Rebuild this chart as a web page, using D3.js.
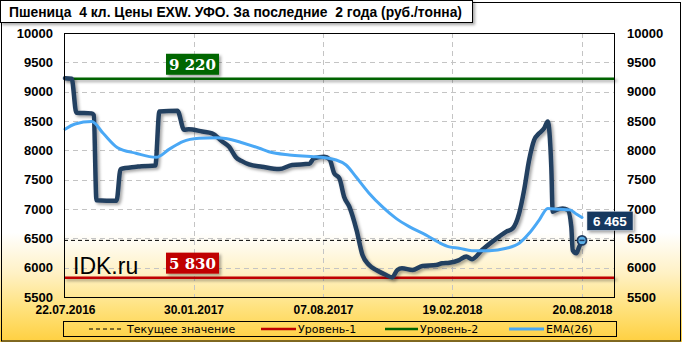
<!DOCTYPE html>
<html><head><meta charset="utf-8">
<script src="https://cdn.jsdelivr.net/npm/d3@7"></script>
<style>html,body{margin:0;padding:0;background:#fff;}svg{display:block;}</style>
</head><body>
<script>
// ---- data ----
const titleText = "Пшеница  4 кл. Цены EXW. УФО. За последние  2 года (руб./тонна)";
const priceDates = ["2016-07-22","2016-08-01","2016-08-08","2016-08-31","2016-09-03","2016-09-07","2016-10-07","2016-10-13","2016-11-06","2016-11-13","2016-12-04","2016-12-10","2017-01-06","2017-01-16","2017-01-23","2017-02-12","2017-02-26","2017-03-13","2017-03-23","2017-04-02","2017-04-10","2017-04-21","2017-05-10","2017-06-04","2017-06-23","2017-07-18","2017-07-25","2017-08-09","2017-08-17","2017-08-24","2017-09-01","2017-09-08","2017-09-16","2017-09-27","2017-10-06","2017-10-16","2017-10-27","2017-11-11","2017-11-20","2017-11-28","2017-12-05","2017-12-21","2018-01-05","2018-01-26","2018-02-04","2018-02-15","2018-03-01","2018-03-11","2018-03-19","2018-04-02","2018-04-16","2018-04-26","2018-05-06","2018-05-15","2018-05-24","2018-05-31","2018-06-07","2018-06-14","2018-06-21","2018-06-28","2018-07-03","2018-07-08","2018-07-10","2018-07-15","2018-07-24","2018-07-31","2018-08-05","2018-08-07","2018-08-12","2018-08-16","2018-08-20"];
const priceValues = [9230,9220,8640,8630,8600,7150,7140,7680,7720,7730,7740,8660,8675,8350,8360,8320,8290,8150,8060,7880,7820,7760,7720,7680,7750,7770,7865,7890,7845,7610,7520,7210,7040,6640,6215,6045,5960,5875,5835,5960,5990,5960,6030,6045,6075,6085,6130,6190,6145,6300,6440,6530,6615,6670,6925,7325,7835,8175,8290,8375,8490,7720,6955,6985,7010,6985,6700,6300,6245,6355,6465];
const emaDates = ["2016-07-22","2016-08-06","2016-08-31","2016-09-17","2016-10-08","2016-11-05","2016-12-05","2016-12-25","2017-01-14","2017-02-07","2017-03-04","2017-03-18","2017-04-11","2017-05-06","2017-05-20","2017-06-19","2017-07-28","2017-08-27","2017-09-11","2017-09-26","2017-10-16","2017-11-05","2017-11-26","2017-12-16","2018-01-10","2018-01-31","2018-02-15","2018-03-01","2018-03-19","2018-04-12","2018-05-06","2018-05-24","2018-06-07","2018-06-21","2018-07-03","2018-07-19","2018-08-03","2018-08-12","2018-08-20"];
const emaValues = [8360,8450,8490,8290,8050,7950,7880,8020,8150,8205,8215,8200,8130,8035,7975,7920,7890,7835,7750,7550,7270,7040,6840,6700,6560,6425,6355,6330,6290,6290,6330,6415,6585,6810,7010,6995,6985,6915,6855];
const xTickDates = ["2016-07-22","2017-01-30","2017-08-07","2018-02-19","2018-08-20"];
const xTickLabels = ["22.07.2016","30.01.2017","07.08.2017","19.02.2018","20.08.2018"];
const yTicks = [5500,6000,6500,7000,7500,8000,8500,9000,9500,10000];
const level1 = 5830, level2 = 9220, currentValue = 6465;
const level1Label = "5 830", level2Label = "9 220", currentLabel = "6 465";
const legendLabels = ["Текущее значение","Уровень-1","Уровень-2","EMA(26)"];
const watermark = "IDK.ru";

// ---- layout ----
const W = 682, H = 342;
const L = 64, R = 615, T = 33, B = 297;
const parse = d3.timeParse("%Y-%m-%d");
const svg = d3.select("body").append("svg").attr("width", W).attr("height", H);
const defs = svg.append("defs");
const grad = defs.append("linearGradient").attr("id","bg").attr("x1",0).attr("y1",0).attr("x2",0).attr("y2",1);
[[0,"#ffffff"],[0.68,"#ffffff"],[0.8,"#fff1c4"],[0.9,"#ffe27e"],[1,"#ffd040"]].forEach(s=>grad.append("stop").attr("offset",s[0]).attr("stop-color",s[1]));
const sh = defs.append("filter").attr("id","shadow").attr("filterUnits","userSpaceOnUse")
  .attr("x",0).attr("y",0).attr("width",W).attr("height",H);
sh.append("feDropShadow").attr("dx",2).attr("dy",2).attr("stdDeviation",1.5).attr("flood-color","#000").attr("flood-opacity",0.35);

svg.append("rect").attr("x",0).attr("y",0).attr("width",W).attr("height",H).attr("fill","url(#bg)");
svg.append("rect").attr("x",1.5).attr("y",2.5).attr("width",679).attr("height",338.5).attr("fill","none").attr("stroke","#000").attr("stroke-width",1);

const x = d3.scaleTime().domain(xTickDates.map(parse)).range([65,193.5,323,452,582]);
const y = d3.scaleLinear().domain([5500,10000]).range([B,T]);

// grid
const g = svg.append("g");
g.selectAll("line.hg").data(yTicks.filter(v=>v>5500&&v<10000)).join("line")
  .attr("x1",L).attr("x2",R).attr("y1",d=>Math.round(y(d))+0.5).attr("y2",d=>Math.round(y(d))+0.5)
  .attr("stroke","#c4c4c4").attr("stroke-dasharray","5,4");
g.selectAll("line.vg").data(xTickDates.slice(1)).join("line")
  .attr("x1",d=>Math.round(x(parse(d)))+0.5).attr("x2",d=>Math.round(x(parse(d)))+0.5).attr("y1",T).attr("y2",B)
  .attr("stroke","#c4c4c4").attr("stroke-dasharray","5,4");

// axes labels
const fmt = d3.format("d");
const yAxisL = d3.axisLeft(y).tickValues(yTicks).tickFormat(fmt).tickSize(0).tickPadding(11);
const yAxisR = d3.axisRight(y).tickValues(yTicks).tickFormat(fmt).tickSize(0).tickPadding(12);
const xAxis = d3.axisBottom(x).tickValues(xTickDates.map(parse)).tickFormat((d,i)=>xTickLabels[i]).tickSize(0).tickPadding(8);
function styleAxis(sel){ sel.select(".domain").remove(); sel.selectAll("text").attr("font-family","Liberation Sans, Arial, sans-serif").attr("font-weight","bold").attr("fill","#000"); }
svg.append("g").attr("transform",`translate(${L},0)`).call(yAxisL).call(styleAxis).selectAll("text").attr("font-size",13);
svg.append("g").attr("transform",`translate(${R},0)`).call(yAxisR).call(styleAxis).selectAll("text").attr("font-size",13);
svg.append("g").attr("transform",`translate(0,${B})`).call(xAxis).call(styleAxis).selectAll("text").attr("font-size",12);

// current value dashed line
svg.append("line").attr("x1",L).attr("x2",R).attr("y1",y(currentValue)).attr("y2",y(currentValue))
  .attr("stroke","#000").attr("stroke-dasharray","4,3").attr("stroke-width",1);

// level lines
svg.append("line").attr("x1",L).attr("x2",R).attr("y1",y(level2)).attr("y2",y(level2))
  .attr("stroke","#006400").attr("stroke-width",2.5).attr("filter","url(#shadow)");
svg.append("line").attr("x1",L).attr("x2",R).attr("y1",y(level1)).attr("y2",y(level1))
  .attr("stroke","#c00000").attr("stroke-width",2.5).attr("filter","url(#shadow)");

// watermark
svg.append("text").attr("x",73).attr("y",273.5).text(watermark)
  .attr("font-family","Liberation Sans, Arial, sans-serif").attr("font-size",23).attr("fill","#000");

// level labels
function levelBox(val,label,color){
  const by = y(val) - 25;
  const gg = svg.append("g");
  gg.append("rect").attr("x",166).attr("y",by).attr("width",53).attr("height",21).attr("fill",color).attr("filter","url(#shadow)");
  gg.append("text").attr("x",192.5).attr("y",by+16).attr("text-anchor","middle").text(label)
    .attr("font-family","DejaVu Serif, serif").attr("font-weight","bold").attr("font-size",15).attr("fill","#fff");
}
levelBox(level2,level2Label,"#006600");
levelBox(level1,level1Label,"#c00000");

// lines
const pricePts = priceDates.map((d,i)=>[parse(d),priceValues[i]]);
const emaPts = emaDates.map((d,i)=>[parse(d),emaValues[i]]);
const lineGen = d3.line().x(d=>x(d[0])).y(d=>y(d[1])).curve(d3.curveMonotoneX);
svg.append("path").datum(pricePts).attr("d",lineGen).attr("fill","none").attr("stroke","#243f60")
  .attr("stroke-width",4.5).attr("stroke-linejoin","round").attr("stroke-linecap","round").attr("filter","url(#shadow)");
svg.append("path").datum(emaPts).attr("d",lineGen).attr("fill","none").attr("stroke","#4aa8f5")
  .attr("stroke-width",3).attr("stroke-linejoin","round").attr("stroke-linecap","round");

// end marker
const last = pricePts[pricePts.length-1];
const mx = x(last[0]), my = y(last[1]);
svg.append("circle").attr("cx",mx).attr("cy",my).attr("r",4.5).attr("fill","#5bb0e8").attr("stroke","#1f3a5f").attr("stroke-width",1.8);
svg.append("line").attr("x1",mx-2.5).attr("x2",mx+2.5).attr("y1",my).attr("y2",my).attr("stroke","#1f3a5f").attr("stroke-width",1.5);

// plot frame
svg.append("rect").attr("x",L+0.5).attr("y",T+0.5).attr("width",R-L-1).attr("height",B-T).attr("fill","none").attr("stroke","#000");

// current value label
svg.append("rect").attr("x",mx+5).attr("y",my-29).attr("width",46).attr("height",19).attr("fill","#17375e").attr("stroke","#d0d8e0").attr("stroke-width",0.5).attr("filter","url(#shadow)");
svg.append("text").attr("x",mx+28).attr("y",my-14.5).attr("text-anchor","middle").text(currentLabel)
  .attr("font-family","Liberation Sans, Arial, sans-serif").attr("font-weight","bold").attr("font-size",13.5).attr("fill","#fff");

// title
svg.append("rect").attr("x",0.5).attr("y",0.5).attr("width",472).attr("height",22).attr("fill","#fff").attr("stroke","#000").attr("filter","url(#shadow)");
svg.append("text").attr("x",9).attr("y",16.5).text(titleText).attr("textLength",453).attr("lengthAdjust","spacingAndGlyphs")
  .attr("font-family","Liberation Sans, Arial, sans-serif").attr("font-weight","bold").attr("font-size",14).attr("fill","#000").style("white-space","pre");

// legend
svg.append("rect").attr("x",63.5).attr("y",321.5).attr("width",553).attr("height",15).attr("fill","none").attr("stroke","#000");
const legItems = [
  {x1:89,x2:122,tx:127,color:"#000",dash:"4,3",w:1},
  {x1:261,x2:296,tx:298,color:"#c00000",dash:null,w:2.5},
  {x1:385,x2:418,tx:420,color:"#006400",dash:null,w:2.5},
  {x1:509,x2:544,tx:546,color:"#4aa8f5",dash:null,w:3}
];
legItems.forEach((it,i)=>{
  svg.append("line").attr("x1",it.x1).attr("x2",it.x2).attr("y1",329).attr("y2",329).attr("stroke",it.color).attr("stroke-width",it.w).attr("stroke-dasharray",it.dash);
  svg.append("text").attr("x",it.tx).attr("y",333).text(legendLabels[i])
    .attr("font-family","DejaVu Sans, sans-serif").attr("font-size",11).attr("fill","#000");
});
</script>
</body></html>
